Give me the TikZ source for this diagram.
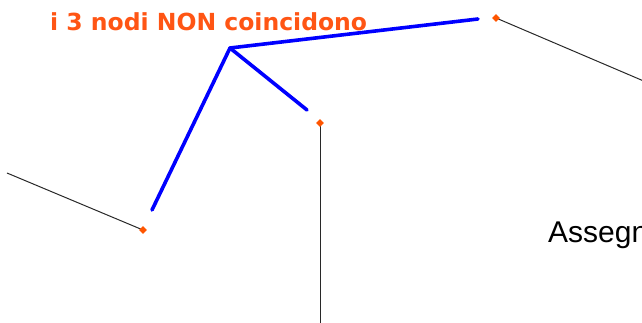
\documentclass[tikz,border=0pt]{standalone}
\usepackage{fontspec}
\setmainfont{Liberation Sans}
\newfontfamily\boldtitle{DejaVu Sans}
\definecolor{myorange}{RGB}{255,85,20}
\definecolor{dotorange}{RGB}{255,85,0}
\definecolor{lineblue}{RGB}{0,0,255}
\definecolor{thingray}{RGB}{40,40,40}
\tikzset{
  px/.style={x=1pt,y=-1pt},
  thinline/.style={draw=thingray,line width=1pt},
  blueline/.style={draw=lineblue,line width=3.6pt,line cap=round,line join=round},
  dotnode/.style={fill=dotorange,diamond,inner sep=0pt,minimum size=8pt},
}
\usetikzlibrary{shapes.geometric}
\begin{document}
\begin{tikzpicture}[px]
\useasboundingbox (0,0) rectangle (642,323);
\clip (0,0) rectangle (642,323);
% coordinates
\coordinate (lt) at (7,173);
\coordinate (bot) at (320,330);
\coordinate (rt) at (646,82);
\coordinate (hub) at (230,48);
\coordinate (b1) at (152,210);
\coordinate (b2) at (307,110);
\coordinate (b3) at (478,19);
% black lines
\draw[thinline] (lt) -- (143,230) coordinate (d1);
\draw[thinline] (320,123) coordinate (d2) -- (bot);
\draw[thinline] (496,18) coordinate (d3) -- (rt);
% orange points
\node[dotnode] (p1) at (d1) {};
\node[dotnode] (p2) at (d2) {};
\node[dotnode] (p3) at (d3) {};
% blue lines
\draw[blueline] (b1) -- (hub) -- (b3);
\draw[blueline] (hub) -- (b2);
% texts
\node[anchor=base west,inner sep=0pt,text=myorange,font=\boldtitle\bfseries\fontsize{23.5}{28}\selectfont] (title) at (50,31) {i 3 nodi NON coincidono};
\node[anchor=base west,inner sep=0pt,text=black,font=\fontsize{30}{36}\selectfont] (assegn) at (548,242) {Assegn};
\end{tikzpicture}
\end{document}
